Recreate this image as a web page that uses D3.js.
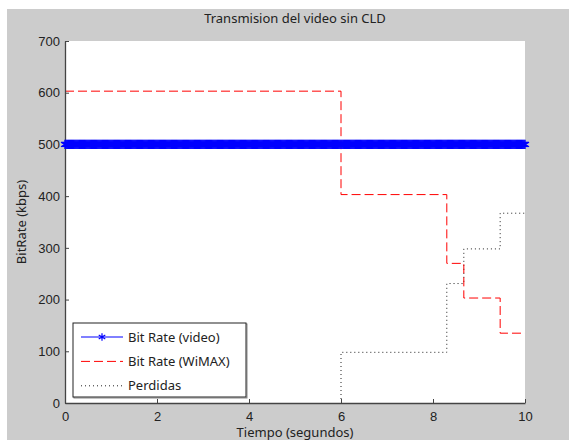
<!DOCTYPE html>
<html>
<head>
<meta charset="utf-8">
<script src="https://cdn.jsdelivr.net/npm/d3@7"></script>
<style>
  body { margin: 0; background: #fff; }
  svg { display: block; font-family: "Noto Sans", "DejaVu Sans", sans-serif; }
</style>
</head>
<body>
<div id="chart"></div>
<script>
// values
const videoRate = 500;          // constant bit rate of the video
const videoStep = 0.02;         // sample spacing of the markers (s)
const wimaxTimes = [0, 6, 8.3, 8.67, 9.46, 10];
const wimaxRates = [603, 403, 270, 203, 135, 135];
const lossTimes = [0, 6, 8.3, 8.67, 9.46, 10];
const lossRates = [0, 98, 231, 298, 367, 367];
const xTicks = [0, 2, 4, 6, 8, 10];
const yTicks = [0, 100, 200, 300, 400, 500, 600, 700];
const legendLabels = ["Bit Rate (video)", "Bit Rate (WiMAX)", "Perdidas"];

function init() {
  const width = 569, height = 440;
  const margin = { top: 41, right: 44, bottom: 37, left: 65 };

  const svg = d3.select("#chart").append("svg")
      .attr("width", width)
      .attr("height", height);

  // figure background
  svg.append("rect")
      .attr("x", 7).attr("y", 9)
      .attr("width", width - 7).attr("height", height - 9)
      .attr("fill", "#cccccc");

  const x = d3.scaleLinear().domain([0, 10]).range([margin.left, width - margin.right]);
  const y = d3.scaleLinear().domain([0, 700]).range([height - margin.bottom, margin.top]);

  svg.append("rect")
      .attr("x", x(0)).attr("y", y(700))
      .attr("width", x(10) - x(0)).attr("height", y(0) - y(700))
      .attr("fill", "#fff");

  // the step lines stay inside the axes box (the zero level hides under the axis)
  svg.append("clipPath").attr("id", "box")
    .append("rect")
      .attr("x", x(0) + 1).attr("y", y(700) - 2)
      .attr("width", x(10) - x(0)).attr("height", y(0) - y(700) + 1);

  const plot = svg.append("g").attr("clip-path", "url(#box)");
  const step = d3.line().curve(d3.curveStepAfter).x(d => x(d[0])).y(d => y(d[1]));

  // losses (dotted)
  plot.append("path")
      .attr("d", step(d3.zip(lossTimes, lossRates)))
      .attr("fill", "none").attr("stroke", "#222").attr("stroke-width", 1)
      .attr("stroke-dasharray", "1,3");

  // WiMAX bit rate (dashed)
  plot.append("path")
      .attr("d", step(d3.zip(wimaxTimes, wimaxRates)))
      .attr("fill", "none").attr("stroke", "#ff0000").attr("stroke-width", 1)
      .attr("stroke-dasharray", "9,4");

  // axes (ticks point inward, MATLAB style)
  const xAxis = svg.append("g")
      .attr("transform", `translate(0,${y(0)})`)
      .call(d3.axisBottom(x).tickValues(xTicks).tickSize(-4).tickPadding(9).tickSizeOuter(0));
  const yAxis = svg.append("g")
      .attr("transform", `translate(${x(0)},0)`)
      .call(d3.axisLeft(y).tickValues(yTicks).tickSize(-4).tickPadding(5).tickSizeOuter(0));
  [xAxis, yAxis].forEach(a => {
    a.select(".domain").attr("stroke", "#444").attr("stroke-width", 1.3);
    a.selectAll(".tick line").attr("stroke", "#444");
    a.selectAll("text").attr("fill", "#222").style("font-size", "13px");
  });

  // video bit rate: line with dense star markers
  const videoTimes = d3.range(0, 10 + 1e-9, videoStep);
  const video = svg.append("g");
  video.append("line")
      .attr("x1", x(0)).attr("x2", x(10))
      .attr("y1", y(videoRate)).attr("y2", y(videoRate))
      .attr("stroke", "#0000ff");
  const star = d3.symbol().type(d3.symbolAsterisk).size(60)();
  video.selectAll(".star")
    .data(videoTimes)
    .join("path")
      .attr("class", "star")
      .attr("d", star)
      .attr("transform", d => `translate(${x(d)},${y(videoRate)})`)
      .attr("fill", "none").attr("stroke", "#0000ff").attr("stroke-width", 1.4);

  // title and labels
  svg.append("text")
      .attr("x", (x(0) + x(10)) / 2).attr("y", 23)
      .attr("text-anchor", "middle").attr("fill", "#222")
      .style("font-size", "13px")
      .text("Transmision del video sin CLD");
  svg.append("text")
      .attr("x", (x(0) + x(10)) / 2).attr("y", 437)
      .attr("text-anchor", "middle").attr("fill", "#222")
      .style("font-size", "13px")
      .text("Tiempo (segundos)");
  svg.append("text")
      .attr("transform", `translate(26,${(y(0) + y(700)) / 2}) rotate(-90)`)
      .attr("text-anchor", "middle").attr("fill", "#222")
      .style("font-size", "13px")
      .text("BitRate (kbps)");

  // legend
  const lg = svg.append("g").attr("transform", "translate(73,323)");
  lg.append("rect")
      .attr("x", 1).attr("y", 1).attr("width", 173).attr("height", 74)
      .attr("fill", "none").attr("stroke", "#888");
  lg.append("rect")
      .attr("width", 173).attr("height", 74)
      .attr("fill", "#fff").attr("stroke", "#222");
  const rows = lg.selectAll(".row")
    .data(legendLabels)
    .join("g")
      .attr("transform", (d, i) => `translate(0,${14 + i * 24.4})`);
  rows.append("line")
      .attr("x1", 8).attr("x2", 50)
      .attr("stroke", (d, i) => ["#0000ff", "#ff0000", "#222"][i])
      .attr("stroke-dasharray", (d, i) => [null, "9,4", "1,3"][i]);
  rows.filter((d, i) => i === 0).append("path")
      .attr("d", d3.symbol().type(d3.symbolAsterisk).size(40)())
      .attr("transform", "translate(29,0)")
      .attr("fill", "none").attr("stroke", "#0000ff").attr("stroke-width", 1.2);
  rows.append("text")
      .attr("x", 55).attr("dy", "0.35em")
      .attr("fill", "#222").style("font-size", "13px")
      .text(d => d);
}

document.addEventListener("DOMContentLoaded", init);
</script>
</body>
</html>
